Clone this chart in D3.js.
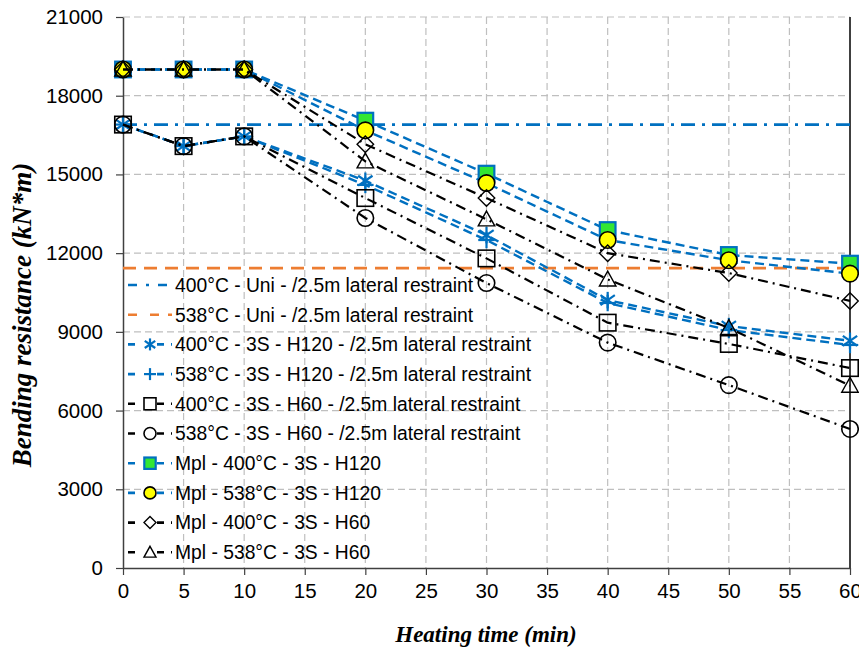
<!DOCTYPE html>
<html><head><meta charset="utf-8">
<script src="https://cdn.jsdelivr.net/npm/d3@7"></script>
<style>body{margin:0;background:#fff}svg{display:block}</style>
</head><body>
<svg id="c" width="859" height="650"></svg>
<script>
const times = [0, 5, 10, 20, 30, 40, 50, 60];
const uniTimes = [0, 60];
const uni400 = [16900, 16900];
const uni538 = [11430, 11430];
const h120_400 = [16900, 16080, 16450, 14760, 12690, 10210, 9220, 8660];
const h120_538 = [16900, 16080, 16450, 14600, 12500, 10100, 9070, 8500];
const h60_400 = [16900, 16080, 16450, 14100, 11800, 9350, 8540, 7620];
const h60_538 = [16900, 16080, 16450, 13340, 10860, 8590, 6970, 5300];
const mpl400_h120 = [19000, 19000, 19000, 17050, 15030, 12880, 11930, 11600];
const mpl538_h120 = [19000, 19000, 19000, 16680, 14670, 12500, 11730, 11220];
const mpl400_h60 = [19000, 19000, 19000, 16150, 14100, 12000, 11240, 10180];
const mpl538_h60 = [19000, 19000, 19000, 15500, 13290, 11000, 9150, 6950];
const xTicks = [0,5,10,15,20,25,30,35,40,45,50,55,60];
const yTicks = [0,3000,6000,9000,12000,15000,18000,21000];
const names = [
  "400°C - Uni - /2.5m lateral restraint",
  "538°C - Uni - /2.5m lateral restraint",
  "400°C - 3S - H120 - /2.5m lateral restraint",
  "538°C - 3S - H120 - /2.5m lateral restraint",
  "400°C - 3S - H60 - /2.5m lateral restraint",
  "538°C - 3S - H60 - /2.5m lateral restraint",
  "Mpl - 400°C - 3S - H120",
  "Mpl - 538°C - 3S - H120",
  "Mpl - 400°C - 3S - H60",
  "Mpl - 538°C - 3S - H60"
];

const BLUE = "#0070C0", ORANGE = "#ED7D31", BLACK = "#000";
const DASHDOT = "10,5,2,5", UDASHDOT = "14,7,3,7", DASH = "9,5", ODASH = "13,8";
const series = [
  {x: uniTimes, y: uni400, color: BLUE, dash: UDASHDOT, w: 2.8, marker: null},
  {x: uniTimes, y: uni538, color: ORANGE, dash: ODASH, w: 2.8, marker: null},
  {x: times, y: h120_400, color: BLUE, dash: DASH, w: 2.4, marker: "star"},
  {x: times, y: h120_538, color: BLUE, dash: DASH, w: 2.4, marker: "plus"},
  {x: times, y: h60_400, color: BLACK, dash: DASHDOT, w: 2.2, marker: "square"},
  {x: times, y: h60_538, color: BLACK, dash: DASHDOT, w: 2.2, marker: "circle"},
  {x: times, y: mpl400_h120, color: BLUE, dash: DASH, w: 2.4, marker: "gsquare"},
  {x: times, y: mpl538_h120, color: BLUE, dash: DASH, w: 2.4, marker: "ycircle"},
  {x: times, y: mpl400_h60, color: BLACK, dash: DASHDOT, w: 2.2, marker: "diamond"},
  {x: times, y: mpl538_h60, color: BLACK, dash: DASHDOT, w: 2.2, marker: "triangle"}
];

const svg = d3.select("#c");
const L = 123, R = 850, T = 17, B = 568;
const x = d3.scaleLinear().domain([0, 60]).range([L, R]);
const y = d3.scaleLinear().domain([0, 21000]).range([B, T]);

// grid
const g = svg.append("g");
g.selectAll(".gx").data(xTicks.slice(1, -1)).enter().append("line")
  .attr("x1", d => x(d)).attr("x2", d => x(d)).attr("y1", T).attr("y2", B)
  .attr("stroke", "#BFBFBF").attr("stroke-width", 1.2).attr("stroke-dasharray", "7,4");
g.selectAll(".gy").data(yTicks.slice(1)).enter().append("line")
  .attr("x1", L).attr("x2", R).attr("y1", d => y(d)).attr("y2", d => y(d))
  .attr("stroke", "#BFBFBF").attr("stroke-width", 1.2).attr("stroke-dasharray", "7,4");

// axes
const font = "'Liberation Sans', Arial, sans-serif";
const ax = svg.append("g").attr("transform", `translate(0,${B})`)
  .call(d3.axisBottom(x).tickValues(xTicks).tickSize(7).tickSizeOuter(0).tickPadding(8));
const ay = svg.append("g").attr("transform", `translate(${L},0)`)
  .call(d3.axisLeft(y).tickValues(yTicks).tickSize(7).tickSizeOuter(0).tickPadding(13).tickFormat(d3.format("d")));
[ax, ay].forEach(a => {
  a.select(".domain").attr("stroke", "#404040").attr("stroke-width", 1.5);
  a.selectAll(".tick line").attr("stroke", "#404040").attr("stroke-width", 1.2);
  a.selectAll("text").attr("font-family", font).attr("font-size", 20.5).attr("fill", "#000");
});
svg.append("line").attr("x1", R).attr("x2", R).attr("y1", T).attr("y2", B)
  .attr("stroke", "#404040").attr("stroke-width", 2);

// markers
function drawMarker(sel, type, cx, cy, s) {
  const h = s / 2;
  if (type === "star") {
    const p = sel.append("g").attr("stroke", BLUE).attr("stroke-width", 2.2);
    p.append("line").attr("x1", cx).attr("x2", cx).attr("y1", cy - h).attr("y2", cy + h);
    p.append("line").attr("x1", cx - h*0.87).attr("x2", cx + h*0.87).attr("y1", cy - h*0.6).attr("y2", cy + h*0.6);
    p.append("line").attr("x1", cx - h*0.87).attr("x2", cx + h*0.87).attr("y1", cy + h*0.6).attr("y2", cy - h*0.6);
  } else if (type === "plus") {
    const p = sel.append("g").attr("stroke", BLUE).attr("stroke-width", 2.2);
    p.append("line").attr("x1", cx).attr("x2", cx).attr("y1", cy - h).attr("y2", cy + h);
    p.append("line").attr("x1", cx - h).attr("x2", cx + h).attr("y1", cy).attr("y2", cy);
  } else if (type === "square") {
    sel.append("rect").attr("x", cx - h).attr("y", cy - h).attr("width", s).attr("height", s)
      .attr("fill", "none").attr("stroke", BLACK).attr("stroke-width", 1.6);
  } else if (type === "circle") {
    sel.append("circle").attr("cx", cx).attr("cy", cy).attr("r", h)
      .attr("fill", "none").attr("stroke", BLACK).attr("stroke-width", 1.6);
  } else if (type === "gsquare") {
    sel.append("rect").attr("x", cx - h*0.95).attr("y", cy - h*0.95).attr("width", s*0.95).attr("height", s*0.95)
      .attr("fill", "#33E633").attr("stroke", BLUE).attr("stroke-width", 2.2);
  } else if (type === "ycircle") {
    sel.append("circle").attr("cx", cx).attr("cy", cy).attr("r", h)
      .attr("fill", "#FFFF00").attr("stroke", BLACK).attr("stroke-width", 1.6);
  } else if (type === "diamond") {
    sel.append("path").attr("d", `M${cx},${cy-h}L${cx+h},${cy}L${cx},${cy+h}L${cx-h},${cy}Z`)
      .attr("fill", "none").attr("stroke", BLACK).attr("stroke-width", 1.4);
  } else if (type === "triangle") {
    sel.append("path").attr("d", `M${cx},${cy-h}L${cx+h},${cy+h*0.8}L${cx-h},${cy+h*0.8}Z`)
      .attr("fill", "none").attr("stroke", BLACK).attr("stroke-width", 1.4);
  }
}

const line = d3.line().x(d => x(d[0])).y(d => y(d[1]));
const plot = svg.append("g");
series.forEach(s => {
  const pts = s.x.map((t, i) => [t, s.y[i]]);
  plot.append("path").attr("d", line(pts)).attr("fill", "none")
    .attr("stroke", s.color).attr("stroke-width", s.w).attr("stroke-dasharray", s.dash);
  if (s.marker) {
    pts.forEach(p => drawMarker(plot, s.marker, x(p[0]), y(p[1]), 16.5));
  }
});

// legend
const leg = svg.append("g");
names.forEach((n, i) => {
  const s = series[i];
  const yy = 285 + i * 29.7;
  leg.append("line").attr("x1", 128).attr("x2", 172).attr("y1", yy).attr("y2", yy)
    .attr("stroke", s.color).attr("stroke-width", 2.6)
    .attr("stroke-dasharray", s.marker ? "7,8,0,14,7" : (i === 0 ? "9,9,3,9,9" : "9,13,9"));
  if (s.marker) drawMarker(leg, s.marker, 150, yy, 12);
  leg.append("text").attr("x", 175).attr("y", yy + 6.8).text(n)
    .attr("font-family", font).attr("font-size", 19.3).attr("fill", "#000");
});

// axis titles
svg.append("text").attr("x", 486).attr("y", 642).attr("text-anchor", "middle")
  .attr("font-family", "'Liberation Serif', 'Times New Roman', serif").attr("font-weight", "bold")
  .attr("font-style", "italic").attr("font-size", 23).text("Heating time (min)");
svg.append("text").attr("transform", "translate(31,315) rotate(-90)").attr("text-anchor", "middle")
  .attr("font-family", "'Liberation Serif', 'Times New Roman', serif").attr("font-weight", "bold")
  .attr("font-style", "italic").attr("font-size", 27).text("Bending resistance (kN*m)");
</script>
</body></html>
